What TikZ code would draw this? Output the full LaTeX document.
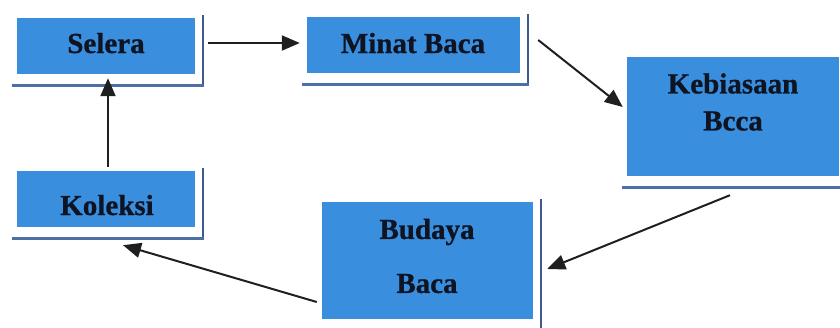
\documentclass[tikz,border=0pt]{standalone}
\usepackage{fontspec}
\setmainfont{Liberation Serif}
\newfontfamily\heavyserif{Liberation Serif}[UprightFont=*-Bold, FakeBold=0.8]
\usetikzlibrary{arrows.meta}
\definecolor{boxblue}{RGB}{58,142,222}
\definecolor{rlinecol}{RGB}{60,92,145}
\definecolor{blinecol}{RGB}{75,112,165}
\definecolor{txtcol}{RGB}{14,20,34}
\tikzset{
  box/.style={fill=boxblue, draw=none, inner sep=0pt},
  txt/.style={font=\fontsize{29}{37}\selectfont\heavyserif, text=txtcol, inner sep=0pt, align=center},
  rline/.style={draw=rlinecol, line width=1.6pt},
  bline/.style={draw=blinecol, line width=3.4pt},
  conn/.style={draw=black!88, line width=2pt, -{Triangle[length=18pt,width=15pt]}}
}
\newcommand\myframebox[1]{%
  \draw[rline] ([xshift=8pt,yshift=3pt]#1.north east) -- ([xshift=8pt,yshift=-12pt]#1.south east);
  \draw[bline] ([xshift=-5pt,yshift=-11pt]#1.south west) -- ([xshift=8.8pt,yshift=-11pt]#1.south east);}
\begin{document}
\begin{tikzpicture}[x=1pt,y=-1pt]
\useasboundingbox (0,0) rectangle (840,327);
\clip (0,0) rectangle (840,327);
% boxes
\node[box, minimum width=178pt, minimum height=56pt] (sel) at (106,46) {};
\node[box, minimum width=213pt, minimum height=56pt] (min) at (413.5,45) {};
\node[box, minimum width=212pt, minimum height=119pt] (keb) at (733,116.5) {};
\node[box, minimum width=178pt, minimum height=56pt] (kol) at (106,199) {};
\node[box, minimum width=211pt, minimum height=117pt] (bud) at (427.5,260.5) {};
\myframebox{sel}
\myframebox{min}
\myframebox{keb}
\myframebox{kol}
\myframebox{bud}
% texts
\node[txt, anchor=base] (selt) at (106,53) {Selera};
\node[txt, anchor=base] (mint) at (413,53) {Minat Baca};
\node[txt] (kebt) at (733,102) {Kebiasaan\\Bcca};
\node[txt, anchor=base] (kolt) at (107,215) {Koleksi};
\node[txt] (budt) at (427,256) {Budaya\\[17pt]Baca};
% connectors
\draw[conn] ([xshift=13pt,yshift=3pt]sel.east) -- ([xshift=-7pt,yshift=2pt]min.west);
\draw[conn] ([xshift=18pt,yshift=5pt]min.east) -- ([xshift=-4pt,yshift=9.5pt]keb.west);
\draw[conn] ([xshift=-3pt,yshift=-19pt]keb.south) -- ([xshift=14pt,yshift=-8.5pt]bud.east);
\draw[conn] ([xshift=-5pt,yshift=-41.5pt]bud.west) -- ([xshift=17pt,yshift=-18pt]kol.south);
\draw[conn] ([xshift=2pt,yshift=4pt]kol.north) -- ([xshift=2pt,yshift=-4pt]sel.south);
\end{tikzpicture}
\end{document}
